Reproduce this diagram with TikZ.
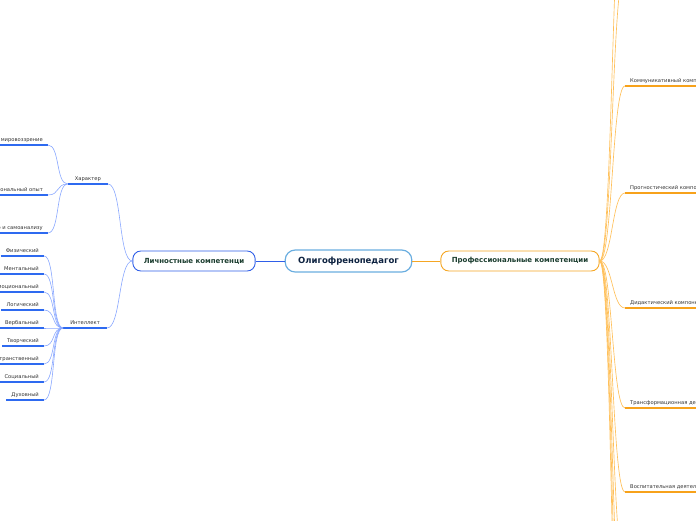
\documentclass[tikz,border=0pt]{standalone}
\usepackage{fontspec}
\setmainfont{DejaVu Sans}
\definecolor{rootblue}{HTML}{6AAEE0}
\definecolor{rootink}{HTML}{0D2240}
\definecolor{persblue}{HTML}{2F5EE8}
\definecolor{proforange}{HTML}{F5A623}
\definecolor{topicink}{HTML}{1B3D2F}
\definecolor{subink}{HTML}{333333}
\definecolor{bluecurve}{HTML}{8AA8FF}
\definecolor{bluebar}{HTML}{2E6AF0}
\definecolor{orangecurve}{HTML}{FFC05A}
\definecolor{orangebar}{HTML}{F7A21B}

\begin{document}
\begin{tikzpicture}[x=1pt,y=-1pt,
  topic/.style={draw, rounded corners=8pt, line width=0.9pt, fill=white,
    minimum height=20pt, inner xsep=11pt, text=topicink,
    font=\bfseries\fontsize{7}{8}\selectfont},
  sub/.style={inner xsep=5pt, inner ysep=3pt, text height=4pt, text depth=0pt,
    text=subink, font=\fontsize{5.2}{6}\selectfont},
  bcurve/.style={draw=bluecurve, line width=0.6pt},
  bbar/.style={draw=bluebar, line width=1.5pt},
  ocurve/.style={draw=orangecurve, line width=0.65pt},
  obar/.style={draw=orangebar, line width=1.5pt}]
% Frame
\useasboundingbox (0,0) rectangle (696,520);
\clip (0,0) rectangle (696,520);
% Main topics
\node[topic, draw=rootblue, line width=1.2pt, rounded corners=10pt, minimum height=22pt,
  inner xsep=13pt, text=rootink, font=\bfseries\fontsize{8.5}{10}\selectfont]
  (root) at (348.5,261) {Олигофренопедагог};
\node[topic, draw=persblue] (pers) at (194,261) {Личностные компетенци};
\node[topic, draw=proforange] (prof) at (520,261) {Профессиональные компетенции};
\draw[persblue, line width=0.7pt] (root.west) -- (pers.east);
\draw[proforange, line width=0.7pt] (root.east) -- (prof.west);
% Personal branch
\node[sub, anchor=south east, inner xsep=7pt] (char) at (108,184) {Характер};
\node[sub, anchor=south east, inner xsep=7pt] (intel) at (107,328) {Интеллект};
\node[sub, anchor=south east] (view) at (48,145) {Научное мировоззрение};
\node[sub, anchor=south east] (exper) at (48,195) {Профессиональный опыт};
\node[sub, anchor=south east] (self) at (48,233) {Способность к самоконтролю и самоанализу};
\node[sub, anchor=south east] (phys) at (44,256) {Физический};
\node[sub, anchor=south east] (ment) at (44,274) {Ментальный};
\node[sub, anchor=south east] (emot) at (44,292) {Эмоциональный};
\node[sub, anchor=south east] (logic) at (44,310) {Логический};
\node[sub, anchor=south east] (verb) at (44,328) {Вербальный};
\node[sub, anchor=south east] (creat) at (44,346) {Творческий};
\node[sub, anchor=south east] (space) at (44,364) {Пространственный};
\node[sub, anchor=south east] (soc) at (44,382) {Социальный};
\node[sub, anchor=south east] (spir) at (44,400) {Духовный};
\foreach \n in {char,intel,view,exper,self,phys,ment,emot,logic,verb,creat,space,soc,spir}
  \draw[bbar] (\n.south west) -- (\n.south east);
\foreach \n in {char,intel}
  \draw[bcurve] (pers.west) to[out=180,in=0,distance=14pt] (\n.south east);
\foreach \n in {view,exper,self}
  \draw[bcurve] (char.south west) to[out=180,in=0,distance=12pt] (\n.south east);
\foreach \n in {phys,ment,emot,logic,verb,creat,space,soc,spir}
  \draw[bcurve] (intel.south west) to[out=180,in=0,distance=12pt] (\n.south east);
% Professional branch
\node[sub, anchor=south west] (comm) at (625,86) {Коммуникативный компонент};
\node[sub, anchor=south west] (progn) at (625,193) {Прогностический компонент};
\node[sub, anchor=south west] (didac) at (625,308) {Дидактический компонент};
\node[sub, anchor=south west] (trans) at (625,408) {Трансформационная деятельность};
\node[sub, anchor=south west] (educ) at (625,492) {Воспитательная деятельность};
\coordinate (up1) at (625,-30);
\coordinate (up2) at (625,-130);
\coordinate (dn1) at (625,570);
\coordinate (dn2) at (625,650);
\coordinate (dn3) at (625,730);
\coordinate (dn4) at (625,810);
\foreach \n in {comm,progn,didac,trans,educ}
  \draw[obar] (\n.south west) -- (\n.south east);
\foreach \n in {comm,progn,didac,trans,educ}
  \draw[ocurve] (prof.east) to[out=0,in=180,distance=13pt] (\n.south west);
\foreach \n in {up1,up2,dn1,dn2,dn3,dn4}
  \draw[ocurve] (prof.east) to[out=0,in=180,distance=13pt] (\n);
\end{tikzpicture}
\end{document}
